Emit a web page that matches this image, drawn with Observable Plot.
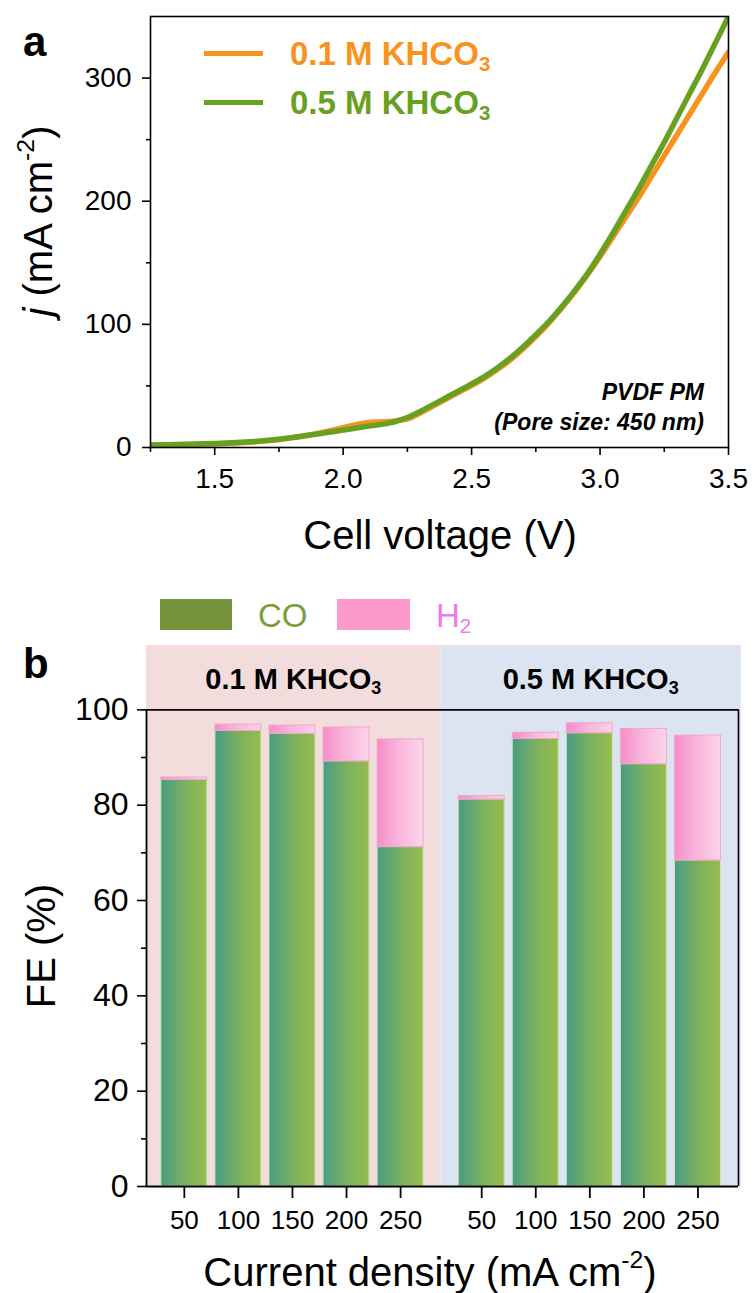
<!DOCTYPE html>
<html><head><meta charset="utf-8">
<script src="https://cdn.jsdelivr.net/npm/d3@7"></script>
<script src="https://cdn.jsdelivr.net/npm/@observablehq/plot@0.6"></script>
<style>
html,body{margin:0;padding:0;background:#fff;overflow:hidden;}
#wrap{position:relative;width:754px;height:1293px;overflow:hidden;font-family:"Liberation Sans",Arial,sans-serif;color:#000;}
.abs{position:absolute;white-space:nowrap;line-height:1;}
#top,#bottom{position:absolute;left:0;}
#top{top:0}
#bottom{top:600px}
sub{font-size:0.62em;vertical-align:-0.3em;line-height:0}
sup{font-size:0.62em;vertical-align:0.72em;line-height:0}
</style></head>
<body><div id="wrap"><div id="top"></div><div id="bottom"></div></div>
<script>
// ---------- Panel a data ----------
const voltage = [1.25,1.30,1.35,1.40,1.45,1.50,1.55,1.60,1.65,1.70,1.75,1.80,1.85,1.90,1.95,2.00,2.05,2.10,2.15,2.20,2.25,2.30,2.35,2.40,2.45,2.50,2.55,2.60,2.65,2.70,2.75,2.80,2.85,2.90,2.95,3.00,3.05,3.10,3.15,3.20,3.25,3.30,3.35,3.40,3.45,3.50];
const j01 = [1.8,2.0,2.2,2.4,2.6,2.9,3.3,3.8,4.5,5.4,6.5,7.9,9.5,11.4,13.6,16.0,18.6,20.3,20.8,21.6,23.2,28.0,33.6,39.3,44.8,50.3,56.3,63.3,71.0,80.0,90.0,101,113,126,140,155,171,187,203,220,237,254,271,288,305,321];
const j05 = [2.0,2.2,2.4,2.7,3.0,3.3,3.7,4.2,4.8,5.6,6.7,8.0,9.5,11.0,12.6,14.1,15.8,17.4,18.8,20.8,24.3,29.3,34.8,40.4,46.0,51.6,57.6,64.5,72.5,81.5,91.5,102,114,127,141,157,174,192,210,229,248,268,288,308,329,350];
const seriesNames = ["0.1 M KHCO3","0.5 M KHCO3"];
const seriesColors = ["#f7931e","#68a022"];
const voltTicks = [1.5,2.0,2.5,3.0,3.5];
const voltMinor = [1.25,1.75,2.25,2.75,3.25];
const jTicks = [0,100,200,300];
const jMinor = [50,150,250];

// ---------- Panel b data ----------
const densities = [50,100,150,200,250];
const groupNames = ["0.1 M KHCO3","0.5 M KHCO3"];
const coFE01 = [85.3,95.6,95.0,89.2,71.2];
const h2FE01 = [0.5,1.3,1.7,7.1,22.6];
const coFE05 = [81.2,93.9,95.1,88.6,68.4];
const h2FE05 = [0.7,1.3,2.1,7.4,26.2];
const feTicks = [0,20,40,60,80,100];
const feMinor = [10,30,50,70,90];

const FONT = '"Liberation Sans", Arial, sans-serif';

// ---------- Panel a ----------
const topData = [];
[j01, j05].forEach((arr, s) => voltage.forEach((v, i) => topData.push({v, j: arr[i], s: seriesNames[s]})));

const topPlot = Plot.plot({
  width: 754, height: 600,
  marginTop: 16, marginRight: 26, marginBottom: 153, marginLeft: 150,
  style: {fontFamily: FONT, color: "#000", background: "transparent", overflow: "visible"},
  x: {domain: [1.25, 3.5], label: null},
  y: {domain: [0, 350], label: null},
  color: {domain: seriesNames, range: seriesColors},
  marks: [
    Plot.line(topData, {x: "v", y: "j", z: "s", stroke: "s", strokeWidth: 5.5, clip: true, curve: "monotone-x"}),
    Plot.frame({stroke: "#000", strokeWidth: 1.6}),
    Plot.axisX(voltTicks, {tickSize: 8, tickPadding: 13, fontSize: 28, strokeWidth: 1.6, tickFormat: d3.format(".1f"), label: null}),
    Plot.axisX(voltMinor, {tickSize: 5, strokeWidth: 1.6, tickFormat: () => "", label: null}),
    Plot.axisY(jTicks, {tickSize: 8, tickPadding: 11, fontSize: 28, strokeWidth: 1.6, label: null}),
    Plot.axisY(jMinor, {tickSize: 4, strokeWidth: 1.6, tickFormat: () => "", label: null})
  ]
});
document.getElementById("top").appendChild(topPlot);

// ---------- Panel b ----------
const gapStep = 5.5;
const barHalf = 0.425;
const xDom = [-0.7, 10.25];
const yTop = 113.5;
const barData = [];
[[coFE01, h2FE01], [coFE05, h2FE05]].forEach(([co, h2], g) => {
  densities.forEach((d, i) => barData.push({g, d, pos: g * gapStep + i, co: co[i], h2: h2[i]}));
});
const tickPos = barData.map(b => b.pos);
const tickLabel = new Map(barData.map(b => [b.pos, String(b.d)]));
const split = (4 + gapStep) / 2;
const shades = [
  {x1: xDom[0], x2: split, fill: "#f2dcdc"},
  {x1: split, x2: xDom[1] + 0.05, fill: "#dbe4f0"}
];

const botPlot = Plot.plot({
  width: 754, height: 693,
  marginTop: 45, marginRight: 16, marginBottom: 107, marginLeft: 146,
  style: {fontFamily: FONT, color: "#000", background: "transparent", overflow: "visible"},
  x: {type: "linear", domain: xDom, label: null},
  y: {domain: [0, yTop], label: null},
  color: {type: "identity"},
  marks: [
    Plot.rect(shades, {x1: "x1", x2: "x2", y1: 0, y2: yTop, fill: "fill"}),
    Plot.rect(barData, {x1: d => d.pos - barHalf, x2: d => d.pos + barHalf, y1: 0, y2: "co", fill: "url(#gradCO)", stroke: "#cde5ad", strokeWidth: 1}),
    Plot.rect(barData, {x1: d => d.pos - barHalf, x2: d => d.pos + barHalf, y1: "co", y2: d => d.co + d.h2, fill: "url(#gradH2)", stroke: "#f4a4cf", strokeWidth: 1}),
    Plot.ruleY([100], {x1: xDom[0], x2: xDom[1], stroke: "#000", strokeWidth: 1.6}),
    Plot.ruleY([0], {x1: xDom[0], x2: xDom[1], stroke: "#000", strokeWidth: 1.8}),
    Plot.ruleX([xDom[0]], {y1: 0, y2: 100, stroke: "#000", strokeWidth: 1.8}),
    Plot.ruleX([xDom[1]], {y1: 0, y2: 100, stroke: "#000", strokeWidth: 1.6}),
    Plot.axisY(feTicks, {tickSize: 9, tickPadding: 9, fontSize: 32, strokeWidth: 1.6, label: null}),
    Plot.axisY(feMinor, {tickSize: 5, strokeWidth: 1.6, tickFormat: () => "", label: null}),
    Plot.axisX(tickPos, {tickSize: 12, tickPadding: 12, fontSize: 26, strokeWidth: 1.8, tickFormat: d => tickLabel.get(d), label: null})
  ]
});
document.getElementById("bottom").appendChild(botPlot);

// gradients
const defs = d3.select(botPlot).insert("defs", ":first-child");
const gCO = defs.append("linearGradient").attr("id", "gradCO").attr("x1", 0).attr("x2", 1).attr("y1", 0).attr("y2", 0);
[["0%", "#479c86"], ["55%", "#7fb25d"], ["100%", "#94bd4d"]].forEach(([o, c]) => gCO.append("stop").attr("offset", o).attr("stop-color", c));
const gH2 = defs.append("linearGradient").attr("id", "gradH2").attr("x1", 0).attr("x2", 1).attr("y1", 0).attr("y2", 0);
[["0%", "#f78cc8"], ["45%", "#f8b4db"], ["100%", "#fcd5ea"]].forEach(([o, c]) => gH2.append("stop").attr("offset", o).attr("stop-color", c));

// ---------- overlays ----------
const wrap = document.getElementById("wrap");
function txt(html, o) {
  const el = document.createElement("div");
  el.className = "abs";
  el.innerHTML = html;
  el.style.fontSize = o.size + "px";
  if (o.weight) el.style.fontWeight = o.weight;
  if (o.italic) el.style.fontStyle = "italic";
  el.style.color = o.color || "#000";
  el.style.left = o.x + "px";
  if (o.rotate) {
    el.style.top = o.y + "px";
    el.style.transform = "translate(-50%,-50%) rotate(-90deg)";
  } else {
    el.style.top = (o.y - 0.49 * o.size) + "px";
    const tx = o.anchor === "middle" ? "-50%" : o.anchor === "end" ? "-100%" : "0";
    el.style.transform = `translateX(${tx})`;
  }
  wrap.appendChild(el);
  return el;
}
function box(x, y, w, h, color) {
  const el = document.createElement("div");
  el.className = "abs";
  Object.assign(el.style, {left: x + "px", top: y + "px", width: w + "px", height: h + "px", background: color});
  wrap.appendChild(el);
}
const sub3 = s => s.replace(/KHCO3$/, "KHCO<sub>3</sub>");

// panel labels
txt("a", {x: 23, y: 42, size: 42, weight: "bold"});
txt("b", {x: 23, y: 664, size: 42, weight: "bold"});

// panel a legend
seriesNames.forEach((s, i) => {
  const cy = 53 + i * 49;
  box(204, cy - 2.5, 59, 5, seriesColors[i]);
  txt(sub3(s), {x: 290, y: cy, size: 33, weight: "bold", color: seriesColors[i]});
});
// annotation
txt("PVDF PM", {x: 704, y: 392, size: 23, weight: "bold", italic: true, anchor: "end"});
txt("(Pore size: 450 nm)", {x: 704, y: 422, size: 23, weight: "bold", italic: true, anchor: "end"});
// axis titles panel a
txt("Cell voltage (V)", {x: 440, y: 535, size: 40, anchor: "middle"});
txt("<i>j</i> (mA cm<sup>-2</sup>)", {x: 38, y: 221, size: 40, rotate: true});

// panel b legend
box(160, 599, 72, 31, "#77933c");
txt("CO", {x: 258, y: 615, size: 33, color: "#7b9d3a"});
box(337, 599, 73, 31, "#fb9acb");
txt("H<sub>2</sub>", {x: 436, y: 615, size: 33, color: "#ec7bec"});

// group labels
const xs = botPlot.scale("x"), ys = botPlot.scale("y");
shades.forEach((sh, g) => {
  const cx = xs.apply((sh.x1 + sh.x2) / 2);
  const cy = 600 + ys.apply((100 + yTop) / 2);
  txt(sub3(groupNames[g]), {x: cx, y: cy + 2, size: 29, weight: "bold", anchor: "middle"});
});
// axis titles panel b
txt("FE (%)", {x: 41, y: 946, size: 40, rotate: true});
txt("Current density (mA cm<sup>-2</sup>)", {x: 430, y: 1272, size: 40, anchor: "middle"});
</script>
</body></html>
